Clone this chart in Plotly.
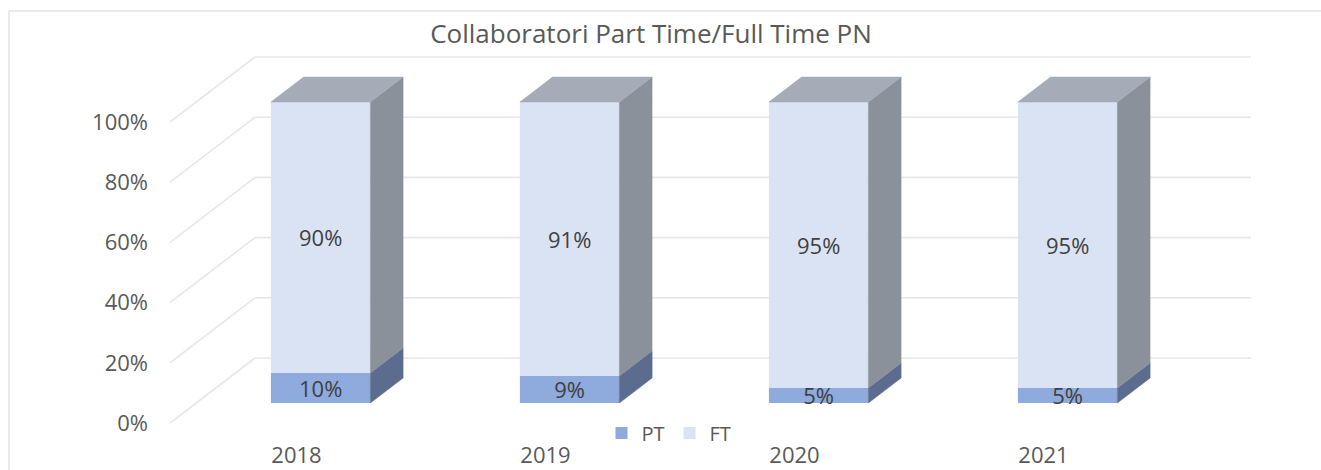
import plotly.graph_objects as go

# Data
categories = ["2018", "2019", "2020", "2021"]
pt_values = [10, 9, 5, 5]
ft_values = [90, 91, 95, 95]
pct_ticks = [0, 20, 40, 60, 80, 100]
title_text = "Collaboratori Part Time/Full Time PN"

W, H = 1321, 470
FONT = "'Open Sans', sans-serif"
TXT = "#595959"
GRID = "#e7e7e7"

# Oblique projection of the Excel-style 3D chart, in pixels per axis unit
L, R = 170, 1251          # plot area left and right in pixels
Y0, YTOP, YBOT = 423, 53, 426
PX_PER_CAT = 249.0
PX_PER_PCT = 3.01
WALL_DX = 85 / PX_PER_CAT   # depth shift in x units at z=1
WALL_DY = 65 / PX_PER_PCT   # depth shift in y units at z=1
Z_FRONT, Z_BACK = 20 / 65, 45 / 65
BAR_W = 99.5 / PX_PER_CAT
LABEL_NUDGE = 2 / PX_PER_CAT


def proj(x, y, z):
    return x + WALL_DX * z, y + WALL_DY * z


xs = list(range(len(categories)))
x_range = [-0.5, len(categories) - 0.5 + WALL_DX]
y_range = [-(YBOT - Y0) / PX_PER_PCT, (Y0 - YTOP) / PX_PER_PCT]

fig = go.Figure()


def add_face(points, color):
    fig.add_trace(go.Scatter(
        x=[p[0] for p in points] + [points[0][0]],
        y=[p[1] for p in points] + [points[0][1]],
        mode="lines", fill="toself", fillcolor=color,
        line=dict(color=color, width=0.5),
        hoverinfo="skip", showlegend=False,
    ))


# Front faces: real stacked bars, lifted onto the bar's front plane
front_x = [proj(x, 0, Z_FRONT)[0] for x in xs]
lift = proj(0, 0, Z_FRONT)[1]
fig.add_trace(go.Bar(
    name="PT", x=front_x, y=pt_values, base=[lift] * len(xs), width=BAR_W,
    marker=dict(color="#8faadc", line=dict(width=0)),
    text=[f"{v}%" for v in pt_values],
    textposition="inside", insidetextanchor="middle", constraintext="none",
    textangle=0, textfont=dict(family=FONT, size=22, color="#404040"),
    hoverinfo="skip",
))
fig.add_trace(go.Bar(
    name="FT", x=front_x, y=ft_values,
    base=[lift + v for v in pt_values], width=BAR_W,
    marker=dict(color="#dae3f3", line=dict(width=0)),
    text=[f"{v}%" for v in ft_values],
    textposition="inside", insidetextanchor="middle", constraintext="none",
    textangle=0, textfont=dict(family=FONT, size=22, color="#404040"),
    hoverinfo="skip",
))

# Side and top faces of every bar
for x, pt, ft in zip(xs, pt_values, ft_values):
    lo, hi = x - BAR_W / 2, x + BAR_W / 2
    total = pt + ft
    add_face([proj(hi, 0, Z_FRONT), proj(hi, 0, Z_BACK),
              proj(hi, pt, Z_BACK), proj(hi, pt, Z_FRONT)], "#5b6c8e")
    add_face([proj(hi, pt, Z_FRONT), proj(hi, pt, Z_BACK),
              proj(hi, total, Z_BACK), proj(hi, total, Z_FRONT)], "#8a919b")
    add_face([proj(lo, total, Z_FRONT), proj(hi, total, Z_FRONT),
              proj(hi, total, Z_BACK), proj(lo, total, Z_BACK)], "#a5abb7")

# Floor-to-wall gridlines, behind the bars
shapes = []
for t in pct_ticks:
    x_a, y_a = proj(-0.5, t, 0)
    x_b, y_b = proj(-0.5, t, 1)
    x_c, y_c = proj(len(categories) - 0.5, t, 1)
    for (x0, y0, x1, y1) in [(x_a, y_a, x_b, y_b), (x_b, y_b, x_c, y_c)]:
        shapes.append(dict(type="line", xref="x", yref="y", x0=x0, y0=y0,
                           x1=x1, y1=y1, layer="below",
                           line=dict(color=GRID, width=1.6)))

# Chart frame (top and left edges)
plot_w, plot_h = R - L, YBOT - YTOP
fx = (9 - L) / plot_w
fy = 1 - (11 - YTOP) / plot_h
fbottom = 1 - (H - YTOP) / plot_h
fright = (W - L) / plot_w
for x0, y0, x1, y1 in [(fx, fy, fright, fy), (fx, fy, fx, fbottom)]:
    shapes.append(dict(type="line", xref="paper", yref="paper", x0=x0, y0=y0,
                       x1=x1, y1=y1, line=dict(color="#e3e3e3", width=1.5)))

fig.update_layout(
    width=W, height=H,
    margin=dict(l=L, r=W - R, t=YTOP, b=H - YBOT, pad=0, autoexpand=False),
    paper_bgcolor="white", plot_bgcolor="white",
    barmode="overlay",
    shapes=shapes,
    font=dict(family=FONT, size=22, color=TXT),
    title=dict(text=title_text, x=651 / W, xanchor="center", xref="container",
               y=1 - 34 / H, yanchor="middle", yref="container",
               font=dict(family=FONT, size=26, color=TXT)),
    xaxis=dict(range=x_range, tickmode="array",
               tickvals=[x + LABEL_NUDGE for x in xs], ticktext=categories,
               showgrid=False, zeroline=False, showline=False, ticks="",
               ticklabelstandoff=14, fixedrange=True,
               tickfont=dict(family=FONT, size=22, color=TXT)),
    yaxis=dict(range=y_range, tickmode="array", tickvals=pct_ticks,
               ticktext=[f"{t}%" for t in pct_ticks],
               showgrid=False, zeroline=False, showline=False, ticks="",
               ticklabelstandoff=21, fixedrange=True,
               tickfont=dict(family=FONT, size=22, color=TXT)),
    legend=dict(orientation="h", x=(669 - L) / plot_w, xanchor="center",
                y=-(433 - YBOT) / plot_h, yanchor="middle",
                font=dict(family=FONT, size=20, color=TXT),
                bgcolor="rgba(0,0,0,0)", traceorder="normal",
                itemwidth=30),
    showlegend=True,
)

fig.write_html("out.html", config={"displayModeBar": False},
               post_script="document.body.style.margin='0';")
